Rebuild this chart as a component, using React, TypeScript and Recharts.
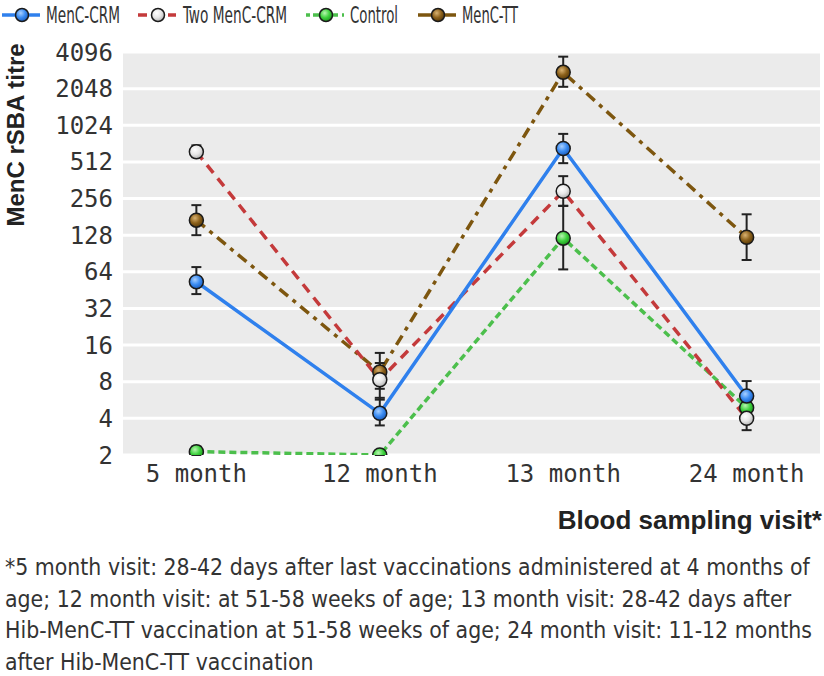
import React from "react";
import { LineChart, Line, XAxis, YAxis, CartesianGrid, ErrorBar, Legend } from "recharts";

const visits = ["5 month", "12 month", "13 month", "24 month"];
const yTicks = [2, 4, 8, 16, 32, 64, 128, 256, 512, 1024, 2048, 4096];

// geometric mean titres and 95% CI
const crm = [53, 4.4, 660, 6.1];
const crmLo = [42, 3.5, 500, 4.8];
const crmHi = [70, 5.9, 870, 8.1];

const twoCrm = [620, 8.3, 294, 4.0];
const twoCrmLo = [560, 5.7, 223, 3.2];
const twoCrmHi = [700, 11.4, 391, 5.1];

const control = [2.13, 2.0, 121, 4.9];
const controlLo = [2.0, 2.0, 67, 4.3];
const controlHi = [2.35, 2.05, 223, 5.6];

const tt = [170, 9.6, 2790, 123];
const ttLo = [128, 7, 2120, 80];
const ttHi = [226, 13.8, 3750, 190];

const footnote = [
  "*5 month visit: 28-42 days after last vaccinations administered at 4 months of",
  "age; 12 month visit: at 51-58 weeks of age; 13 month visit: 28-42 days after",
  "Hib-MenC-TT vaccination at 51-58 weeks of age; 24 month visit: 11-12 months",
  "after Hib-MenC-TT vaccination",
];

const err = (v: number[], lo: number[], hi: number[], i: number) => [v[i] - lo[i], hi[i] - v[i]];

const data = visits.map((name, i) => ({
  x: i,
  name,
  crm: crm[i],
  crmErr: err(crm, crmLo, crmHi, i),
  two: twoCrm[i],
  twoErr: err(twoCrm, twoCrmLo, twoCrmHi, i),
  control: control[i],
  controlErr: err(control, controlLo, controlHi, i),
  tt: tt[i],
  ttErr: err(tt, ttLo, ttHi, i),
}));

const series = [
  { key: "crm", name: "MenC-CRM", color: "#2f80ed", dash: undefined, grad: "gBlue" },
  { key: "two", name: "Two MenC-CRM", color: "#c43a3b", dash: "10 7", grad: "gWhite" },
  { key: "control", name: "Control", color: "#4cbf4c", dash: "7 4", grad: "gGreen" },
  { key: "tt", name: "MenC-TT", color: "#7d560f", dash: "11 6 4 6", grad: "gBrown" },
];

const textColor = "#333";
const condensed = "'DejaVu Sans Condensed', 'DejaVu Sans', sans-serif";
const mono = "'DejaVu Sans Mono', monospace";

// legend layout: swatch start, text start, text width, swatch dash
const legendLayout = [
  { x: 2, tx: 46, tw: 74, dash: undefined },
  { x: 138, tx: 183, tw: 104, dash: "9 21" },
  { x: 306, tx: 350, tw: 48, dash: "4 3 7 4" },
  { x: 418, tx: 462, tw: 56, dash: undefined },
];

function LegendContent() {
  return (
    <svg width={824} height={30} style={{ display: "block" }}>
      {series.map((s, i) => {
        const l = legendLayout[i];
        return (
          <g key={s.key}>
            <line x1={l.x} y1={15} x2={l.x + 38} y2={15} stroke={s.color} strokeWidth={3.5} strokeDasharray={l.dash} />
            <circle cx={l.x + 20} cy={15} r={6.5} fill={`url(#${s.grad})`} stroke="#1a1a1a" strokeWidth={1.5} />
            <text
              x={l.tx}
              y={23}
              textLength={l.tw}
              lengthAdjust="spacingAndGlyphs"
              fontFamily={condensed}
              fontSize={23}
              fill={textColor}
            >
              {s.name}
            </text>
          </g>
        );
      })}
    </svg>
  );
}

function Grad({ id, light, base, dark }: { id: string; light: string; base: string; dark: string }) {
  return (
    <radialGradient id={id} cx="40%" cy="35%" r="65%">
      <stop offset="0%" stopColor={light} />
      <stop offset="55%" stopColor={base} />
      <stop offset="100%" stopColor={dark} />
    </radialGradient>
  );
}

const YLabel = () => (
  <text
    x={15}
    y={135}
    transform="rotate(-90, 15, 135)"
    textAnchor="middle"
    dominantBaseline="central"
    fontFamily="'Liberation Sans', sans-serif"
    fontWeight={700}
    fontSize={24}
    fill="#222"
  >
    MenC rSBA titre
  </text>
);

// drawn back to front so the first series sits on top, as in the figure
const drawOrder = [...series].reverse();

export default function App() {
  return (
    <div style={{ position: "relative", width: 824, height: 676, background: "#fff", overflow: "hidden" }}>
      <style>{`body{margin:0}`}</style>
      <LineChart width={824} height={500} data={data} margin={{ top: 22, right: 4, bottom: 0, left: 0 }}>
        <defs>
          <Grad id="gBlue" light="#a9d0ff" base="#3b8cf2" dark="#1d5fc0" />
          <Grad id="gWhite" light="#ffffff" base="#e6e6e6" dark="#b5b5b5" />
          <Grad id="gGreen" light="#b8f5b0" base="#3fd23f" dark="#1e9a1e" />
          <Grad id="gBrown" light="#d9b271" base="#8d621c" dark="#5b3c08" />
        </defs>
        <CartesianGrid vertical={false} fill="#ebebeb" stroke="#fff" strokeWidth={3} />
        <XAxis
          dataKey="x"
          type="number"
          domain={[-0.4, 3.4]}
          ticks={[0, 1, 2, 3]}
          tickFormatter={(v: number) => visits[v]}
          axisLine={false}
          tickLine={false}
          tickSize={0}
          tickMargin={10}
          height={45}
          tick={{ fontFamily: mono, fontSize: 24, fill: textColor }}
        />
        <YAxis
          type="number"
          scale="log"
          domain={[2, 4096]}
          ticks={yTicks}
          interval={0}
          allowDataOverflow
          axisLine={false}
          tickLine={false}
          tickSize={0}
          tickMargin={10}
          width={123}
          tick={{ fontFamily: mono, fontSize: 24, fill: textColor }}
          label={{ content: () => <YLabel /> }}
        />
        <Legend
          verticalAlign="top"
          align="left"
          height={30}
          wrapperStyle={{ top: 0, left: 0, width: 824, height: 30 }}
          content={() => <LegendContent />}
        />
        {drawOrder.map((s) => (
          <Line
            key={s.key}
            dataKey={s.key}
            name={s.name}
            stroke={s.color}
            strokeWidth={3.5}
            strokeDasharray={s.dash}
            isAnimationActive={false}
            dot={{ r: 7, fill: `url(#${s.grad})`, stroke: "#1a1a1a", strokeWidth: 1.5, strokeDasharray: "none" }}
            activeDot={false}
          >
            <ErrorBar dataKey={`${s.key}Err`} width={5} stroke="#222" strokeWidth={2} direction="y" />
          </Line>
        ))}
      </LineChart>
      <div
        style={{
          position: "absolute",
          right: 2,
          top: 505,
          fontFamily: "'Liberation Sans', sans-serif",
          fontWeight: 700,
          fontSize: 26,
          color: "#222",
        }}
      >
        Blood sampling visit*
      </div>
      <div
        style={{
          position: "absolute",
          left: 5,
          top: 552,
          fontFamily: condensed,
          fontSize: 22.8,
          lineHeight: "31.5px",
          color: textColor,
          whiteSpace: "nowrap",
        }}
      >
        {footnote.map((l, i) => (
          <div key={i}>{l}</div>
        ))}
      </div>
    </div>
  );
}
